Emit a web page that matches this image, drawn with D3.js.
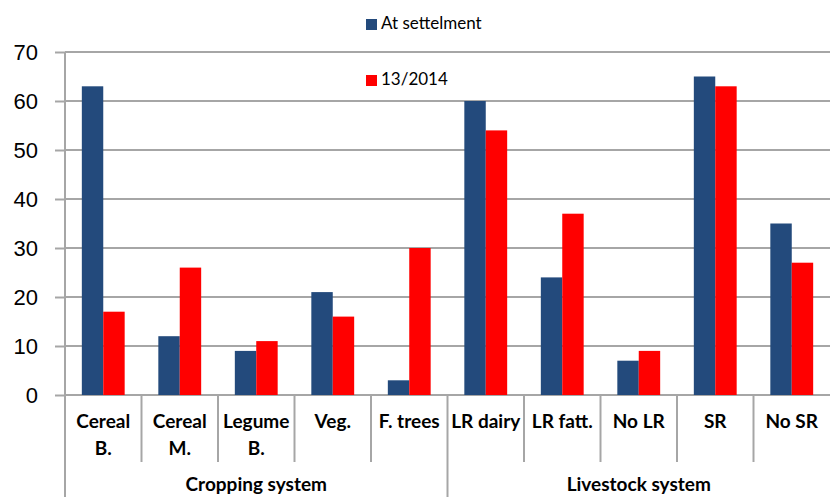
<!DOCTYPE html>
<html>
<head>
<meta charset="utf-8">
<script src="https://d3js.org/d3.v7.min.js"></script>
<style>
  body { margin: 0; background: #fff; }
  svg { display: block; font-family: Lato, "Open Sans", sans-serif; }
</style>
</head>
<body>
<div id="canvas"></div>
<script>
"use strict"

/* chart data */
let categories = [["Cereal", "B."], ["Cereal", "M."], ["Legume", "B."], ["Veg."], ["F. trees"],
                  ["LR dairy"], ["LR fatt."], ["No LR"], ["SR"], ["No SR"]];
let atSettlement = [63, 12, 9, 21, 3, 60, 24, 7, 65, 35];
let year2014 = [17, 26, 11, 16, 30, 54, 37, 9, 63, 27];
let seriesNames = ["At settelment", "13/2014"];
let groups = [{ name: "Cropping system", from: 0, to: 5 }, { name: "Livestock system", from: 5, to: 10 }];
let yTicks = [0, 10, 20, 30, 40, 50, 60, 70];

let colours = ["#234a7c", "#ff0000"];
let gridColour = "#a6a6a6";

let drawing = d3.select("#canvas")
    .append("svg")
    .attr("width", 830)
    .attr("height", 497);

let x = d3.scaleBand()
    .domain(d3.range(categories.length))
    .range([65, 830]);

let inner = d3.scaleBand()
    .domain([0, 1])
    .range([x.bandwidth() * 0.22, x.bandwidth() * 0.78]);

let y = d3.scaleLinear()
    .domain([0, 70])
    .range([395, 52]);

/* y ticks + labels */
let yAxis = drawing.append("g")
    .attr("transform", "translate(65,0)")
    .call(d3.axisLeft(y).tickValues(yTicks).tickSize(10).tickPadding(17).tickFormat(d3.format("d")));
yAxis.select(".domain").remove();
yAxis.selectAll(".tick line").attr("stroke", gridColour).attr("stroke-width", 2);
yAxis.selectAll(".tick text").attr("font-size", 22).attr("fill", "#000");

/* horizontal gridlines */
drawing.append("g")
    .selectAll("line")
    .data(yTicks)
    .join("line")
    .attr("x1", 65)
    .attr("x2", 830)
    .attr("y1", d => y(d))
    .attr("y2", d => y(d))
    .attr("stroke", gridColour)
    .attr("stroke-width", 2);

/* bars */
let series = [atSettlement, year2014];
series.forEach((values, s) => {
    drawing.append("g")
        .selectAll("rect")
        .data(values)
        .join("rect")
        .attr("x", (d, i) => x(i) + inner(s))
        .attr("y", d => y(d))
        .attr("width", inner.bandwidth())
        .attr("height", d => y(0) - y(d))
        .attr("fill", colours[s]);
});

/* left axis line */
drawing.append("line")
    .attr("x1", 65).attr("x2", 65)
    .attr("y1", 52).attr("y2", 497)
    .attr("stroke", gridColour)
    .attr("stroke-width", 2);

/* category dividers */
drawing.append("g")
    .selectAll("line")
    .data(d3.range(1, categories.length))
    .join("line")
    .attr("x1", i => x(i))
    .attr("x2", i => x(i))
    .attr("y1", 395)
    .attr("y2", i => i === 5 ? 497 : 462)
    .attr("stroke", gridColour)
    .attr("stroke-width", 2);

/* category labels */
let catLabels = drawing.append("g")
    .selectAll("text")
    .data(categories)
    .join("text")
    .attr("x", (d, i) => x(i) + x.bandwidth() / 2)
    .attr("y", 428)
    .attr("text-anchor", "middle")
    .attr("font-size", 19)
    .attr("font-weight", "bold");
catLabels.selectAll("tspan")
    .data(d => d)
    .join("tspan")
    .attr("x", function () { return this.parentNode.getAttribute("x"); })
    .attr("dy", (d, j) => j === 0 ? 0 : 27)
    .text(d => d);

/* group labels (kept just inside the bottom edge) */
drawing.append("g")
    .selectAll("text")
    .data(groups)
    .join("text")
    .attr("x", d => (x(d.from) + (d.to < categories.length ? x(d.to) : 830)) / 2)
    .attr("y", 491)
    .attr("text-anchor", "middle")
    .attr("font-size", 19)
    .attr("font-weight", "bold")
    .text(d => d.name);

/* legend */
let legend = drawing.append("g")
    .selectAll("g")
    .data(seriesNames)
    .join("g")
    .attr("transform", (d, i) => `translate(366,${19 + i * 56})`);
legend.append("rect")
    .attr("width", 11)
    .attr("height", 11)
    .attr("fill", (d, i) => colours[i]);
legend.append("text")
    .attr("x", 15)
    .attr("y", 10)
    .attr("font-size", 17)
    .text(d => d);
</script>
</body>
</html>
